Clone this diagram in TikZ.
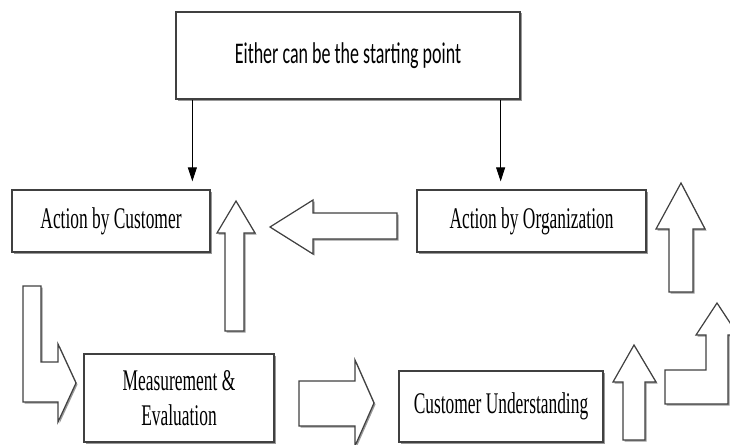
\documentclass[tikz,border=0pt]{standalone}
\usepackage{fontspec}
\newfontfamily\boxfont[FakeStretch=0.58]{Liberation Serif}
\newfontfamily\headfont[FakeStretch=0.6]{Carlito}
\usetikzlibrary{arrows.meta,shadows}

\begin{document}
\begin{tikzpicture}[
    x=1pt, y=-1pt,
    box/.style={rectangle, draw=black!75, line width=1.3pt, fill=white, align=center, inner sep=2pt,
        font=\boxfont\fontsize{30}{35}\selectfont,
        drop shadow={shadow xshift=1.5pt, shadow yshift=-1.5pt, fill=black!40, opacity=1}},
    bigarrow/.style={draw=black!75, line width=1.2pt, fill=white, line join=miter,
        drop shadow={shadow xshift=1.5pt, shadow yshift=-1.5pt, fill=black!40, opacity=1}},
    arrow/.style={-{Triangle[length=14pt, width=9pt]}, line width=0.9pt, shorten >=8pt}
]
\useasboundingbox (0,0) rectangle (730,444);

% Top: starting point
\node[box, minimum width=344pt, minimum height=87pt, font=\headfont\fontsize{30}{34}\selectfont] (start) at (348,55.5) {Either can be the starting point};

% Actions
\node[box, minimum width=198pt, minimum height=62pt] (cust) at (111,221) {Action by Customer};
\node[box, minimum width=229pt, minimum height=62pt] (org) at (531.5,221) {Action by Organization};

% Bottom row
\node[box, minimum width=190pt, minimum height=88pt] (meas) at (179,398) {Measurement \&\\Evaluation};
\node[box, minimum width=204pt, minimum height=71pt] (und) at (501,406.5) {Customer Understanding};

% Thin arrows from the starting point
\draw[arrow] ([xshift=17pt]start.south west) -- ([xshift=17pt]start.south west |- cust.north);
\draw[arrow] ([xshift=-20pt]start.south east) -- ([xshift=-20pt]start.south east |- org.north);

% Block arrows
\draw[bigarrow] (225,331) -- (225,233) -- (217,233) -- (236,201) -- (255,233) -- (244,233) -- (244,331) -- cycle;
\draw[bigarrow] (397,213) -- (313,213) -- (313,200) -- (270,227) -- (313,254) -- (313,239) -- (397,239) -- cycle;
\draw[bigarrow] (669,292) -- (669,229) -- (656,229) -- (681,183) -- (705,229) -- (693,229) -- (693,292) -- cycle;
\draw[bigarrow] (23,286) -- (41,286) -- (41,362) -- (58,362) -- (58,344) -- (76,383) -- (58,422) -- (58,402) -- (23,402) -- cycle;
\draw[bigarrow] (299,381) -- (355,381) -- (355,360) -- (374,403) -- (355,446) -- (355,426) -- (299,426) -- cycle;
\draw[bigarrow] (623,440) -- (623,382) -- (613,382) -- (634,345) -- (656,382) -- (645,382) -- (645,440) -- cycle;
\draw[bigarrow] (665,370) -- (706,370) -- (706,335) -- (696,335) -- (717,303) -- (738,335) -- (728,335) -- (728,404) -- (665,404) -- cycle;

\end{tikzpicture}
\end{document}
